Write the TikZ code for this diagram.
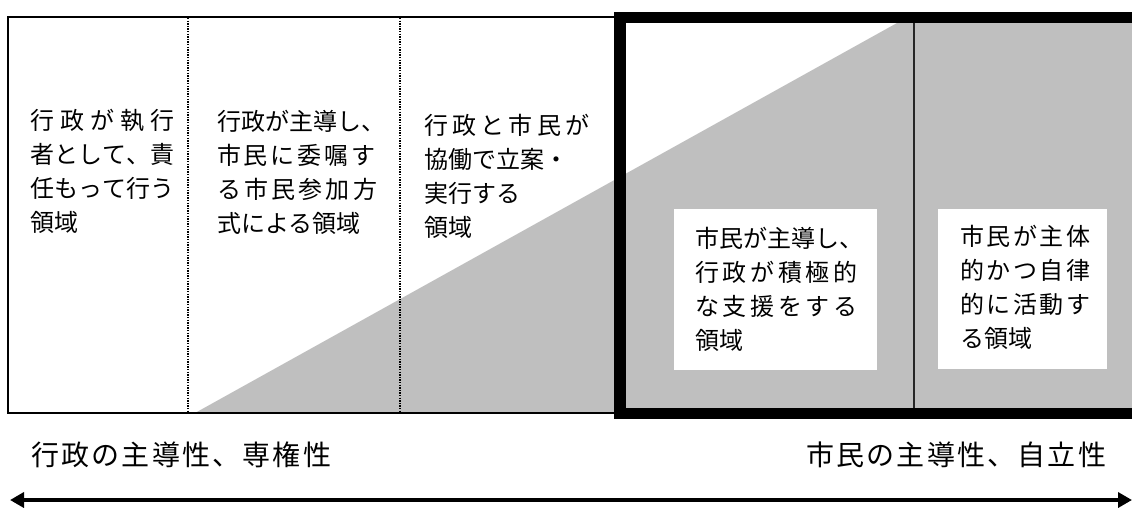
\documentclass[tikz,border=0pt]{standalone}
\usepackage{fontspec}
\setmainfont{Noto Sans CJK JP}
\usetikzlibrary{arrows.meta}
\definecolor{areagray}{gray}{0.75}
\makeatletter
\def\spr#1#2{\makebox[#1][s]{\spr@#2\spr@end}}
\def\spr@#1#2{#1\ifx\spr@end#2\expandafter\@gobble\else\hfil\fi\spr@#2}
\let\spr@end\relax
\makeatother
\newcommand\bodyfont{\fontsize{24}{34}\selectfont}
\newcommand\labelfont{\fontsize{28}{32}\selectfont}
\newcommand\lines[1]{\vtop{\baselineskip=34pt\lineskiplimit=0pt #1}}
\tikzset{
  body/.style={anchor=base west, inner sep=0pt, font=\bodyfont},
  caption/.style={anchor=base west, inner sep=0pt, font=\labelfont},
  thinbox/.style={draw=black, line width=1.5pt},
  divider/.style={draw=black, line width=1.4pt, dash pattern=on 1.3pt off 1.3pt},
  thickbox/.style={draw=black, line width=11.5pt},
  textbox/.style={fill=white},
}
\begin{document}
\begin{tikzpicture}[x=1pt, y=-1pt]
\useasboundingbox (0,0) rectangle (1132,507);
\fill[white] (0,0) rectangle (1132,507);
\clip (0,0) rectangle (1132,507);
% grey wedge
\fill[areagray] (195,413) -- (897,23) -- (1145,23) -- (1145,413) -- cycle;
% thin outer frame
\draw[thinbox] (8,17) rectangle (620,413);
% dotted separators
\draw[divider] (188,18) -- (188,412);
\draw[divider] (400,18) -- (400,412);
% thick frame
\draw[thickbox] (620,17.5) rectangle (1140,413.5);
\draw[draw=black!85, line width=1.2pt] (914,23) -- (914,408);
% white text boxes
\fill[textbox] (674,209) rectangle (877,370);
\fill[textbox] (938,209) rectangle (1107,369);
% texts
\node[body] (t1) at (30,129) {\lines{\hbox{\spr{144pt}{行政が執行}}\hbox{\spr{144pt}{者として、責}}\hbox{\spr{144pt}{任もって行う}}\hbox{領域}}};
\node[body] (t2) at (217,130) {\lines{\hbox{\spr{168pt}{行政が主導し、}}\hbox{\spr{158pt}{市民に委嘱す}}\hbox{\spr{160pt}{る市民参加方}}\hbox{式による領域}}};
\node[body] (t3) at (424,134) {\lines{\hbox{\spr{165pt}{行政と市民が}}\hbox{協働で立案・}\hbox{実行する}\hbox{領域}}};
\node[body] (t4) at (695,247) {\lines{\hbox{\spr{168pt}{市民が主導し、}}\hbox{\spr{162pt}{行政が積極的}}\hbox{\spr{162pt}{な支援をする}}\hbox{領域}}};
\node[body] (t5) at (960,245) {\lines{\hbox{\spr{130pt}{市民が主体}}\hbox{\spr{130pt}{的かつ自律}}\hbox{\spr{130pt}{的に活動す}}\hbox{る領域}}};
% captions
\node[caption] (capL) at (31,465) {\spr{300pt}{行政の主導性、専権性}};
\node[caption] (capR) at (806,465) {\spr{300pt}{市民の主導性、自立性}};
% double arrow
\coordinate (aL) at (10,500);
\coordinate (aR) at (1132,500);
\draw[line width=4pt, {Triangle[length=14pt,width=15pt]}-{Triangle[length=14pt,width=15pt]}] (aL) -- (aR);
\end{tikzpicture}
\end{document}
